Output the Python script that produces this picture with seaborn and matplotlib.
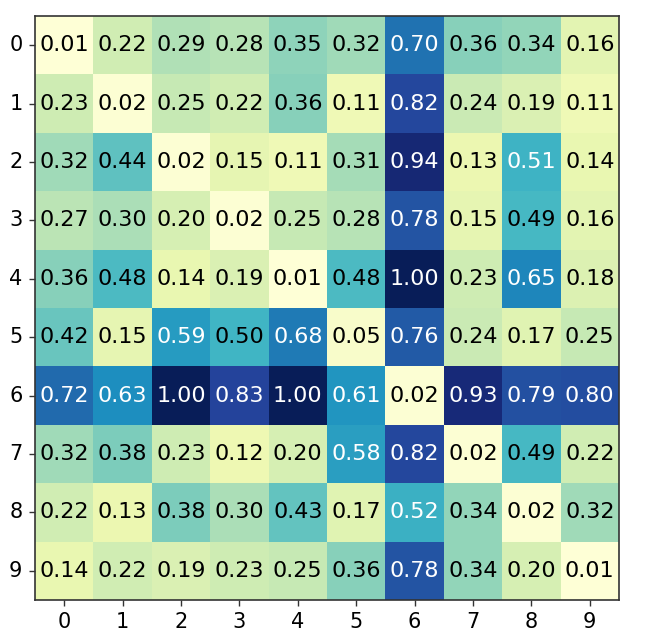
import numpy as np
import pandas as pd
import matplotlib
matplotlib.use("Agg")
import matplotlib.pyplot as plt
import seaborn as sns

labels = [str(i) for i in range(10)]
row0 = [0.01, 0.22, 0.29, 0.28, 0.35, 0.32, 0.70, 0.36, 0.34, 0.16]
row1 = [0.23, 0.02, 0.25, 0.22, 0.36, 0.11, 0.82, 0.24, 0.19, 0.11]
row2 = [0.32, 0.44, 0.02, 0.15, 0.11, 0.31, 0.94, 0.13, 0.51, 0.14]
row3 = [0.27, 0.30, 0.20, 0.02, 0.25, 0.28, 0.78, 0.15, 0.49, 0.16]
row4 = [0.36, 0.48, 0.14, 0.19, 0.01, 0.48, 1.00, 0.23, 0.65, 0.18]
row5 = [0.42, 0.15, 0.59, 0.50, 0.68, 0.05, 0.76, 0.24, 0.17, 0.25]
row6 = [0.72, 0.63, 1.00, 0.83, 1.00, 0.61, 0.02, 0.93, 0.79, 0.80]
row7 = [0.32, 0.38, 0.23, 0.12, 0.20, 0.58, 0.82, 0.02, 0.49, 0.22]
row8 = [0.22, 0.13, 0.38, 0.30, 0.43, 0.17, 0.52, 0.34, 0.02, 0.32]
row9 = [0.14, 0.22, 0.19, 0.23, 0.25, 0.36, 0.78, 0.34, 0.20, 0.01]

data = pd.DataFrame([row0, row1, row2, row3, row4, row5, row6, row7, row8, row9],
                    index=labels, columns=labels)

fig = plt.figure(figsize=(6.51, 6.43), dpi=100)
ax = fig.add_axes([35/651, 1 - 600/643, (619-35)/651, (600-16)/643])
sns.heatmap(data, ax=ax, cmap="YlGnBu", vmin=0, vmax=1, annot=True, fmt=".2f",
            cbar=False, square=False, annot_kws={"fontsize": 16})
vals = data.values.flatten()
for t, v in zip(ax.texts, vals):
    t.set_color("white" if v > 0.5 else "black")
for s in ax.spines.values():
    s.set_visible(True)
    s.set_color("#333333")
    s.set_linewidth(1.2)
ax.set_yticklabels(labels, rotation=0, fontsize=15)
ax.set_xticklabels(labels, rotation=0, fontsize=15)
ax.tick_params(axis="both", length=4, width=1, color="#333333", pad=5)
ax.set_xlabel("")
ax.set_ylabel("")
fig.savefig("out.png", dpi=100)
